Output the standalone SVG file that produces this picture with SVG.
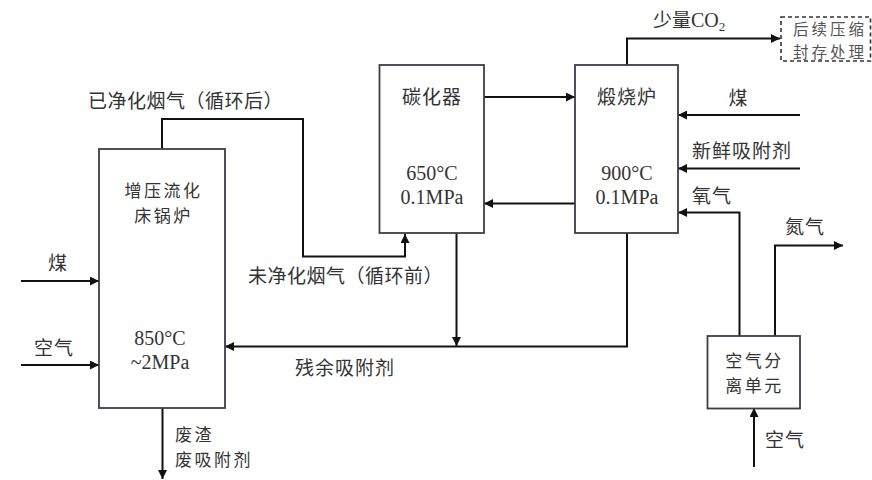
<svg xmlns="http://www.w3.org/2000/svg" width="872" height="480" viewBox="0 0 872 480">
<defs>
<marker id="ah" viewBox="0 0 10 10" refX="10" refY="5" markerWidth="9" markerHeight="9" markerUnits="userSpaceOnUse" orient="auto">
<path d="M0,0 L10,5 L0,10 z" fill="#111"/>
</marker>
</defs>
<style>
.box{fill:#fff;stroke:#3c3c4e;stroke-width:1.8}
.dash{fill:#fff;stroke:#333;stroke-width:1.6;stroke-dasharray:4,3}
.ln{fill:none;stroke:#111;stroke-width:2;marker-end:url(#ah)}
.cn{font-family:"Noto Sans CJK SC","Noto Sans CJK TC",sans-serif;font-size:19px;fill:#333}
.c2{font-family:"Noto Sans CJK SC","Noto Sans CJK TC",sans-serif;font-size:17px;fill:#333;letter-spacing:2.5px}
.cs{font-family:"Noto Sans CJK SC",sans-serif;font-size:15.5px;fill:#555;letter-spacing:3px}
.nm{font-family:"Liberation Serif","Times New Roman",serif;font-size:20px;fill:#333}
.mid{text-anchor:middle}
</style>
<rect width="872" height="480" fill="#fff"/>

<g id="connectors">
<path class="ln" d="M162,149 V119 H303 V256.5 H405 V234"/>
<path class="ln" d="M484,97 H575"/>
<path class="ln" d="M575,203.5 H484"/>
<path class="ln" d="M456.5,233 V346"/>
<path class="ln" d="M627,233 V346.5 H225"/>
<path class="ln" d="M627,65 V38.5 H780"/>
<path class="ln" d="M800,115 H678"/>
<path class="ln" d="M800,168.5 H678"/>
<path class="ln" d="M739.5,336 V212.5 H678"/>
<path class="ln" d="M775,336 V245.5 H843"/>
<path class="ln" d="M754,467 V408"/>
<path class="ln" d="M21,281 H99"/>
<path class="ln" d="M21,365 H99"/>
<path class="ln" d="M162.5,408 V479"/>
</g>

<g id="boiler">
<rect class="box" x="99" y="149" width="126" height="259"/>
<text class="c2 mid" x="163.5" y="197">增压流化</text>
<text class="c2 mid" x="163.5" y="222">床锅炉</text>
<text class="nm mid" x="160" y="345">850°C</text>
<text class="nm mid" x="160" y="369">~2MPa</text>
</g>

<g id="carbonator">
<rect class="box" x="379.5" y="65" width="104.5" height="168"/>
<text class="cn mid" x="432" y="103.5" letter-spacing="1">碳化器</text>
<text class="nm mid" x="432" y="180">650°C</text>
<text class="nm mid" x="432" y="204">0.1MPa</text>
</g>

<g id="calciner">
<rect class="box" x="575" y="65" width="103" height="168"/>
<text class="cn mid" x="627" y="103.5" letter-spacing="1">煅烧炉</text>
<text class="nm mid" x="627" y="180">900°C</text>
<text class="nm mid" x="627" y="204">0.1MPa</text>
</g>

<g id="storage">
<rect class="dash" x="781" y="17" width="89.5" height="44"/>
<text class="cs mid" x="830" y="34.5">后续压缩</text>
<text class="cs mid" x="830" y="57.5">封存处理</text>
</g>

<g id="asu">
<rect class="box" x="707.5" y="336" width="92.5" height="72.5"/>
<text class="c2 mid" x="754.5" y="367">空气分</text>
<text class="c2 mid" x="754.5" y="392">离单元</text>
</g>

<g id="labels">
<text class="cn" x="653" y="27">少量<tspan style="font-family:'Liberation Serif',serif;font-size:20px">CO</tspan><tspan style="font-family:'Liberation Serif',serif;font-size:13px" dy="4">2</tspan></text>
<text class="cn" x="88" y="108" letter-spacing="0.5">已净化烟气（循环后）</text>
<text class="cn" x="248" y="283" letter-spacing="0.5">未净化烟气（循环前）</text>
<text class="cn" x="295" y="375" letter-spacing="1">残余吸附剂</text>
<text class="c2" x="175" y="440.5">废渣</text>
<text class="c2" x="175" y="465.5">废吸附剂</text>
<text class="cn mid" x="57.5" y="270">煤</text>
<text class="cn mid" x="54" y="355" letter-spacing="1">空气</text>
<text class="cn mid" x="738" y="105">煤</text>
<text class="cn" x="692" y="158" letter-spacing="1">新鲜吸附剂</text>
<text class="cn" x="692" y="203" letter-spacing="1">氧气</text>
<text class="cn" x="785" y="234" letter-spacing="1">氮气</text>
<text class="cn" x="765" y="447" letter-spacing="1">空气</text>
</g>
</svg>
